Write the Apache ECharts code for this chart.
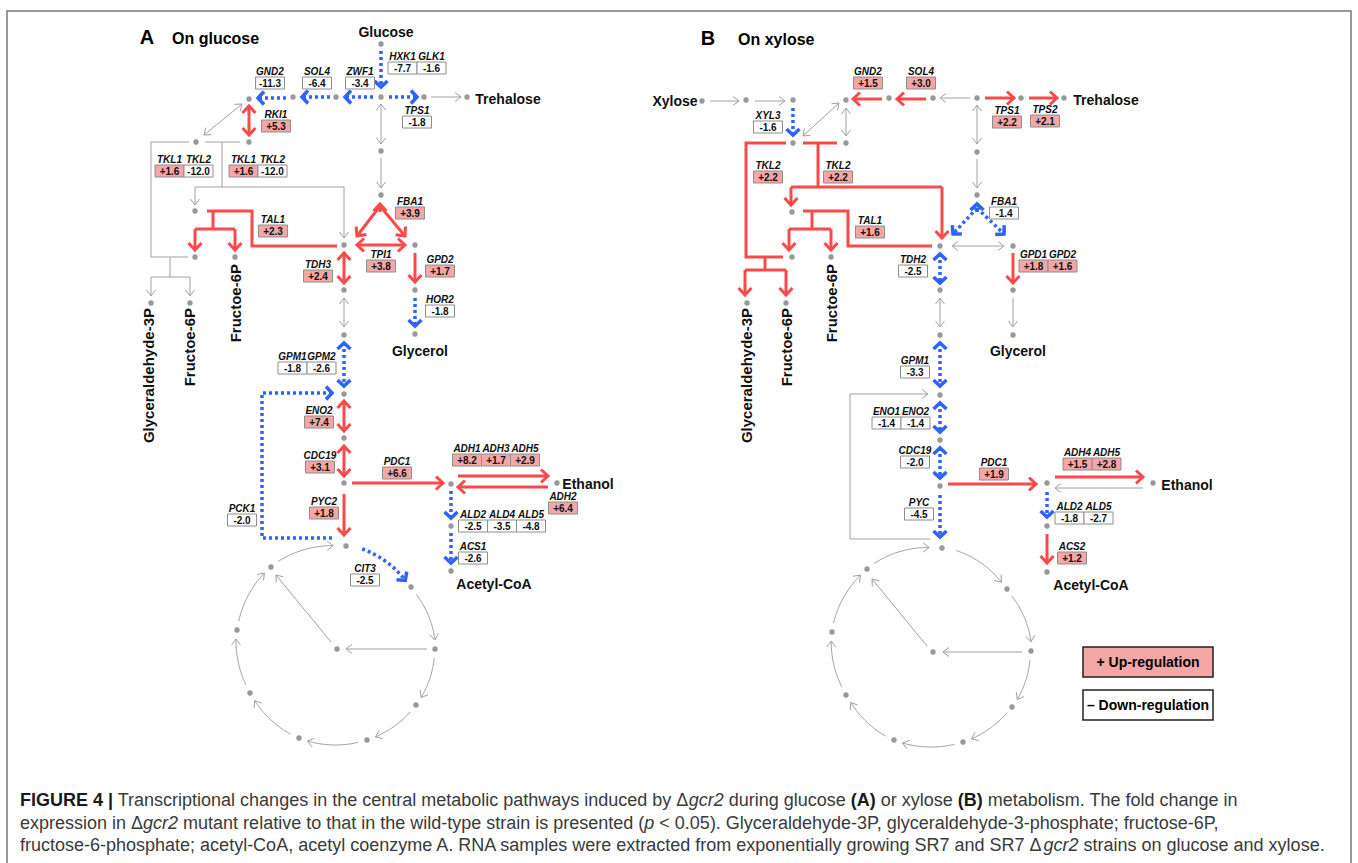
<!DOCTYPE html>
<html>
<head>
<meta charset="utf-8">
<script src="https://cdn.jsdelivr.net/npm/echarts@6.0.0/dist/echarts.min.js"></script>
<style>
  html, body { margin: 0; padding: 0; background: #fff; }
  #chart { width: 1358px; height: 863px; }
</style>
</head>
<body>
<div id="chart"></div>
<script>
const FONT = '"Liberation Sans", Arial, Helvetica, sans-serif'

// ---- fold changes (gcr2 mutant vs wild type), panel A: on glucose
const genesA = [['HXK1','GLK1'],['ZWF1'],['SOL4'],['GND2'],['TPS1'],['RKI1'],['TKL1','TKL2'],['TKL1','TKL2'],
  ['FBA1'],['TAL1'],['TPI1'],['TDH3'],['GPD2'],['HOR2'],['GPM1','GPM2'],['ENO2'],['CDC19'],['PDC1'],
  ['ADH1','ADH3','ADH5'],['ADH2'],['PYC2'],['PCK1'],['ALD2','ALD4','ALD5'],['ACS1'],['CIT3']]
const foldA = [[-7.7,-1.6],[-3.4],[-6.4],[-11.3],[-1.8],[5.3],[1.6,-12.0],[1.6,-12.0],
  [3.9],[2.3],[3.8],[2.4],[1.7],[-1.8],[-1.8,-2.6],[7.4],[3.1],[6.6],
  [8.2,1.7,2.9],[6.4],[1.8],[-2.0],[-2.5,-3.5,-4.8],[-2.6],[-2.5]]

// ---- panel B: on xylose
const genesB = [['XYL3'],['SOL4'],['GND2'],['TPS1'],['TPS2'],['TKL2'],['TKL2'],['FBA1'],['TAL1'],['TDH2'],
  ['GPD1','GPD2'],['GPM1'],['ENO1','ENO2'],['CDC19'],['PDC1'],['ADH4','ADH5'],['PYC'],['ALD2','ALD5'],['ACS2']]
const foldB = [[-1.6],[3.0],[1.5],[2.2],[2.1],[2.2],[2.2],[-1.4],[1.6],[-2.5],
  [1.8,1.6],[-3.3],[-1.4,-1.4],[-2.0],[1.9],[1.5,2.8],[-4.5],[-1.8,-2.7],[1.2]]

const metabolitesA = ['Glucose','Trehalose','Glycerol','Ethanol','Acetyl-CoA']
const metabolitesB = ['Xylose','Trehalose','Glycerol','Ethanol','Acetyl-CoA']
const sideProducts = ['Glyceraldehyde-3P','Fructoe-6P','Fructoe-6P']

// ---- layout (diagram units = pixels of the figure)
const boxAtA = [[417,68],[360,83],[317,83],[270,83],[417,122],[276,126],[184,171],[258,171],
  [410,213],[273,231],[381,266],[318,276],[440,271],[440,311],[307,368],[319,422],[320,467],[397,473],
  [496,460],[563,508],[324,513],[242,520],[502,526],[473,558],[365,580]]
const boxAtB = [[768,127],[921,83],[868,83],[1007,122],[1045,121],[768,177],[838,177],[1004,213],[870,232],[913,271],
  [1048,266],[915,372],[901,423],[915,462],[994,474],[1092,464],[919,514],[1084,518],[1072,558]]
const metAtA = [[386,32],[508,99],[420,351],[588,484],[494,584]]
const metAtB = [[675,101],[1106,100],[1018,351],[1187,485],[1091,585]]
const sideAtA = [[148,308],[189,308],[235,264]]
const sideAtB = [[746,308],[786,308],[831,264]]

const nodesA = [[381,44],[381,97],[336,97],[293,97],[249,99],[424,97],[467,97],[249,142],[196,142],
  [381,151],[381,195],[195,211],[344,245],[415,245],[195,257],[235,257],[151,303],[190,303],
  [415,290],[415,334],[344,290],[344,335],[344,394],[344,438],[344,483],[451,484],[557,483],[451,526],[451,571]]
const nodesB = [[702,101],[746,100],[793,100],[793,143],[846,100],[846,143],[889,98],[933,98],[977,98],[1021,98],[1064,98],
  [977,152],[977,195],[792,212],[792,257],[831,257],[747,303],[786,303],
  [1013,246],[940,246],[1013,290],[1013,335],[940,290],[940,335],[940,395],[940,440],[940,486],[1047,483],[1153,483],[1047,526],[1047,572]]
// TCA cycle: clockwise from oxaloacetate, last one is the centre node
const tcaA = [[346,546],[411,587],[435,649],[416,705],[367,740],[299,738],[250,693],[237,630],[271,567],[337,649]]
const tcaB = [[942,548],[1007,589],[1031,651],[1012,707],[963,742],[894,740],[846,695],[832,632],[867,569],[933,652]]
const tcaCentreA = [337,645]
const tcaCentreB = [932,645]

// reactions: [regulation, arrow heads, polyline]
const edgesA = [
  ['down','end',[[381,51],[381,87]]],
  ['down','end',[[373,97],[345,97]]],
  ['down','end',[[389,97],[417,97]]],
  ['down','end',[[330,97],[302,97]]],
  ['down','end',[[286,98],[258,98]]],
  ['none','end',[[431,97],[461,97]]],
  ['up','both',[[249,106],[249,135]]],
  ['none','both',[[204,135],[242,104]]],
  ['none','none',[[205,142],[240,142]]],
  ['none','none',[[222,142],[222,187]]],
  ['none','none',[[195,187],[344,187]]],
  ['none','end',[[195,187],[195,205]]],
  ['none','end',[[344,187],[344,238]]],
  ['none','none',[[189,142],[151,142],[151,257],[188,257]]],
  ['none','none',[[170,257],[170,277]]],
  ['none','none',[[151,277],[190,277]]],
  ['none','end',[[151,277],[151,296]]],
  ['none','end',[[190,277],[190,296]]],
  ['up','none',[[207,211],[252,211],[252,246],[337,246]]],
  ['up','none',[[213,211],[213,229]]],
  ['up','none',[[195,229],[235,229]]],
  ['up','end',[[195,229],[195,250]]],
  ['up','end',[[235,229],[235,250]]],
  ['none','both',[[381,104],[381,144]]],
  ['none','end',[[381,158],[381,188]]],
  ['up','end',[[380,212],[380,204]]],
  ['up','end',[[380,206],[357,236]]],
  ['up','end',[[380,206],[405,236]]],
  ['up','both',[[357,245],[405,245]]],
  ['up','end',[[415,253],[415,282]]],
  ['down','end',[[415,298],[415,326]]],
  ['up','both',[[344,253],[344,283]]],
  ['none','both',[[344,298],[344,327]]],
  ['down','both',[[344,343],[344,386]]],
  ['down','end',[[332,538],[262,538],[262,393],[332,393]]],
  ['up','both',[[344,401],[344,431]]],
  ['up','both',[[344,446],[344,476]]],
  ['up','end',[[352,483],[443,483]]],
  ['up','end',[[458,476],[548,476]]],
  ['up','end',[[548,487],[458,487]]],
  ['up','end',[[344,494],[344,535]]],
  ['down','end',[[451,491],[451,518]]],
  ['down','end',[[451,533],[451,563]]],
  ['none','end',[[427,649],[346,649]]],
  ['none','end',[[331,642],[276,575]]]
]
const edgesB = [
  ['none','end',[[710,101],[739,101]]],
  ['none','end',[[755,101],[785,101]]],
  ['down','end',[[793,108],[793,135]]],
  ['none','both',[[803,136],[839,103]]],
  ['none','both',[[846,108],[846,136]]],
  ['up','end',[[882,99],[853,99]]],
  ['up','end',[[926,99],[897,99]]],
  ['none','end',[[970,98],[940,98]]],
  ['up','end',[[985,98],[1014,98]]],
  ['up','end',[[1029,98],[1057,98]]],
  ['none','both',[[977,105],[977,144]]],
  ['none','end',[[977,159],[977,188]]],
  ['up','none',[[786,143],[746,143],[746,257],[783,257]]],
  ['up','none',[[765,257],[765,270]]],
  ['up','none',[[745,270],[786,270]]],
  ['up','end',[[745,270],[745,295]]],
  ['up','end',[[786,270],[786,295]]],
  ['up','none',[[803,143],[837,143]]],
  ['up','none',[[818,143],[818,187]]],
  ['up','none',[[791,187],[942,187]]],
  ['up','end',[[791,187],[791,205]]],
  ['up','end',[[942,187],[942,238]]],
  ['up','none',[[803,211],[848,211],[848,246],[932,246]]],
  ['up','none',[[812,211],[812,229]]],
  ['up','none',[[789,229],[831,229]]],
  ['up','end',[[789,229],[789,250]]],
  ['up','end',[[831,229],[831,250]]],
  ['down','end',[[977,212],[977,204]]],
  ['down','end',[[977,208],[953,234]]],
  ['down','end',[[977,208],[1004,234]]],
  ['none','both',[[952,246],[1004,246]]],
  ['up','end',[[1013,253],[1013,283]]],
  ['none','end',[[1013,298],[1013,327]]],
  ['down','both',[[940,254],[940,283]]],
  ['none','both',[[940,298],[940,327]]],
  ['down','both',[[940,343],[940,386]]],
  ['none','end',[[930,539],[850,539],[850,394],[928,394]]],
  ['down','both',[[940,403],[940,432]]],
  ['down','both',[[940,448],[940,478]]],
  ['up','end',[[948,484],[1036,484]]],
  ['up','end',[[1055,477],[1143,477]]],
  ['none','end',[[1143,488],[1055,488]]],
  ['down','end',[[940,495],[940,537]]],
  ['down','end',[[1047,492],[1047,517]]],
  ['up','end',[[1047,534],[1047,563]]],
  ['none','end',[[1022,652],[943,652]]],
  ['none','end',[[927,646],[872,579]]]
]
// arcs of the cycle: [from, to, regulation, gap at start, gap at end]
const arcsA = [[0,1,'down',16,9],[1,2,'none',9,9],[2,3,'none',9,9],[3,4,'none',9,9],[4,5,'none',9,9],
  [5,6,'none',9,9],[6,7,'none',9,9],[7,8,'none',9,9],[8,0,'none',9,13]]
const arcsB = [[0,1,'none',14,9],[1,2,'none',9,9],[2,3,'none',9,9],[3,4,'none',9,9],[4,5,'none',9,9],
  [5,6,'none',9,9],[6,7,'none',9,9],[7,8,'none',9,9],[8,0,'none',9,13]]

const STYLE = {
  up:   { color: '#f94a4a', width: 3,   dash: null,   L: 7, W: 6.5 },
  down: { color: '#2e63ff', width: 3.5, dash: [3, 3], L: 6, W: 6.5 },
  none: { color: '#a0a0a0', width: 1,   dash: null,   L: 6, W: 4.5 }
}
const PINK = '#f5a6a6'
const CELL_W = 29, CELL_H = 12

// build one list of drawable reactions
const edges = []
edgesA.concat(edgesB).forEach(e => edges.push({ kind: e[0], heads: e[1], pts: e[2] }))
arcsA.forEach(a => edges.push({ kind: a[2], heads: 'end', arc: [tcaCentreA, tcaA[a[0]], tcaA[a[1]], a[3], a[4]] }))
arcsB.forEach(a => edges.push({ kind: a[2], heads: 'end', arc: [tcaCentreB, tcaB[a[0]], tcaB[a[1]], a[3], a[4]] }))

const genes = []
genesA.forEach((g, i) => genes.push({ names: g, vals: foldA[i], at: boxAtA[i] }))
genesB.forEach((g, i) => genes.push({ names: g, vals: foldB[i], at: boxAtB[i] }))

const labels = []
metabolitesA.forEach((m, i) => labels.push({ text: m, at: metAtA[i], rot: false }))
metabolitesB.forEach((m, i) => labels.push({ text: m, at: metAtB[i], rot: false }))
sideProducts.forEach((m, i) => labels.push({ text: m, at: sideAtA[i], rot: true }))
sideProducts.forEach((m, i) => labels.push({ text: m, at: sideAtB[i], rot: true }))

function fmt(v) {
  return (v > 0 ? '+' : '') + v.toFixed(1)
}

function chevron(tip, from, st) {
  const dx = tip[0] - from[0], dy = tip[1] - from[1]
  const len = Math.hypot(dx, dy) || 1
  const ux = dx / len, uy = dy / len, nx = -uy, ny = ux
  return {
    type: 'polyline',
    shape: { points: [
      [tip[0] - ux * st.L + nx * st.W, tip[1] - uy * st.L + ny * st.W],
      tip,
      [tip[0] - ux * st.L - nx * st.W, tip[1] - uy * st.L - ny * st.W]
    ] },
    style: { stroke: st.color, lineWidth: st.width, fill: null, lineJoin: 'miter', lineCap: 'butt' }
  }
}

function arcPoints(c, a, b, g0, g1) {
  const ra = Math.hypot(a[0] - c[0], a[1] - c[1])
  const rb = Math.hypot(b[0] - c[0], b[1] - c[1])
  let ta = Math.atan2(a[1] - c[1], a[0] - c[0])
  let tb = Math.atan2(b[1] - c[1], b[0] - c[0])
  while (tb <= ta) tb += 2 * Math.PI
  const rm = (ra + rb) / 2
  ta += g0 / rm
  tb -= g1 / rm
  const pts = []
  for (let k = 0; k <= 30; k++) {
    const t = k / 30
    const th = ta + (tb - ta) * t
    const r = ra + (rb - ra) * t
    pts.push([c[0] + r * Math.cos(th), c[1] + r * Math.sin(th)])
  }
  return pts
}

function renderEdge(params, api) {
  const e = edges[params.dataIndex]
  const st = STYLE[e.kind]
  let pts
  if (e.arc) {
    pts = arcPoints(api.coord(e.arc[0]), api.coord(e.arc[1]), api.coord(e.arc[2]), e.arc[3], e.arc[4])
  } else {
    pts = e.pts.map(p => api.coord(p))
  }
  const children = [{
    type: 'polyline',
    shape: { points: pts },
    style: { stroke: st.color, lineWidth: st.width, lineDash: st.dash, fill: null, lineCap: 'butt', lineJoin: 'miter' }
  }]
  const n = pts.length
  if (e.heads === 'end' || e.heads === 'both') children.push(chevron(pts[n - 1], pts[n - 2], st))
  if (e.heads === 'both') children.push(chevron(pts[0], pts[1], st))
  return { type: 'group', children }
}

function renderGene(params, api) {
  const g = genes[params.dataIndex]
  const c = api.coord(g.at)
  const x0 = c[0] - g.names.length * CELL_W / 2
  const children = []
  g.names.forEach((name, i) => {
    const v = g.vals[i]
    const cx = x0 + i * CELL_W + CELL_W / 2
    children.push({
      type: 'rect',
      shape: { x: x0 + i * CELL_W, y: c[1] - CELL_H / 2, width: CELL_W, height: CELL_H },
      style: { fill: v > 0 ? PINK : '#fff', stroke: '#8e8e8e', lineWidth: 1 }
    })
    children.push({
      type: 'text',
      style: { text: fmt(v), x: cx, y: c[1] + 0.5, align: 'center', verticalAlign: 'middle',
        fontSize: 10, fontWeight: 'bold', fontFamily: FONT, fill: '#111' }
    })
    children.push({
      type: 'text',
      style: { text: name, x: cx, y: c[1] - CELL_H / 2 - 1, align: 'center', verticalAlign: 'bottom',
        fontSize: 10, fontWeight: 'bold', fontStyle: 'italic', fontFamily: FONT, fill: '#111' }
    })
  })
  return { type: 'group', children }
}

function renderLabel(params, api) {
  const l = labels[params.dataIndex]
  const c = api.coord(l.at)
  const style = { text: l.text, fontSize: l.rot ? 15 : 14, fontWeight: 'bold', fontFamily: FONT, fill: '#111',
    align: l.rot ? 'right' : 'center', verticalAlign: 'middle' }
  return { type: 'text', x: c[0], y: c[1], rotation: l.rot ? Math.PI / 2 : 0, style }
}

const chart = echarts.init(document.getElementById('chart'), null, { renderer: 'svg' })

const CAP_SIZE = 18
const captionRich = {
  r: { fontSize: CAP_SIZE, fontFamily: FONT, fill: '#3a3a3a' },
  b: { fontSize: CAP_SIZE, fontFamily: FONT, fontWeight: 'bold', fill: '#1a1a1a' },
  i: { fontSize: CAP_SIZE, fontFamily: FONT, fontStyle: 'italic', fill: '#3a3a3a' }
}
const captionLines = [
  '{b|FIGURE 4 |}{r| Transcriptional changes in the central metabolic pathways induced by \u0394}{i|gcr2}{r| during glucose }{b|(A)}{r| or xylose }{b|(B)}{r| metabolism. The fold change in}',
  '{r|expression in \u0394}{i|gcr2}{r| mutant relative to that in the wild-type strain is presented (}{i|p}{r| < 0.05). Glyceraldehyde-3P, glyceraldehyde-3-phosphate; fructose-6P,}',
  '{r|fructose-6-phosphate; acetyl-CoA, acetyl coenzyme A. RNA samples were extracted from exponentially growing SR7 and SR7 \u0394}{i|gcr2}{r| strains on glucose and xylose.}'
]

const option = {
  animation: false,
  backgroundColor: '#fff',
  grid: { left: 0, right: 0, top: 0, bottom: 0 },
  xAxis: { type: 'value', min: 0, max: 1358, show: false },
  yAxis: { type: 'value', min: 0, max: 863, inverse: true, show: false },
  graphic: [
    { type: 'rect', shape: { x: 7, y: 11, width: 1344, height: 870 }, style: { fill: null, stroke: '#777', lineWidth: 1.5 } },
    { type: 'text', x: 147, y: 37, style: { text: 'A', fontSize: 20, fontWeight: 'bold', fontFamily: FONT, fill: '#000', align: 'center', verticalAlign: 'middle' } },
    { type: 'text', x: 172, y: 38, style: { text: 'On glucose', fontSize: 16, fontWeight: 'bold', fontFamily: FONT, fill: '#000', verticalAlign: 'middle' } },
    { type: 'text', x: 708, y: 38, style: { text: 'B', fontSize: 20, fontWeight: 'bold', fontFamily: FONT, fill: '#000', align: 'center', verticalAlign: 'middle' } },
    { type: 'text', x: 738, y: 39, style: { text: 'On xylose', fontSize: 16, fontWeight: 'bold', fontFamily: FONT, fill: '#000', verticalAlign: 'middle' } },
    { type: 'rect', shape: { x: 1083, y: 647, width: 130, height: 30 }, style: { fill: PINK, stroke: '#222', lineWidth: 1.5 } },
    { type: 'text', x: 1148, y: 662, style: { text: '+ Up-regulation', fontSize: 14, fontWeight: 'bold', fontFamily: FONT, fill: '#000', align: 'center', verticalAlign: 'middle' } },
    { type: 'rect', shape: { x: 1083, y: 690, width: 130, height: 30 }, style: { fill: '#fff', stroke: '#222', lineWidth: 1.5 } },
    { type: 'text', x: 1148, y: 705, style: { text: '\u2013 Down-regulation', fontSize: 14, fontWeight: 'bold', fontFamily: FONT, fill: '#000', align: 'center', verticalAlign: 'middle' } }
  ].concat(captionLines.map((t, i) => ({
    type: 'text', x: 20, y: 800 + i * 22.5,
    style: { text: t, rich: captionRich, fontSize: CAP_SIZE, fontFamily: FONT, fill: '#3a3a3a', verticalAlign: 'middle' }
  }))),
  series: [
    {
      type: 'custom',
      name: 'reactions',
      silent: true,
      renderItem: renderEdge,
      data: edges.map((e, i) => [i, 0]),
      z: 2
    },
    {
      type: 'scatter',
      name: 'metabolites',
      silent: true,
      symbolSize: 5.5,
      itemStyle: { color: '#7f7f7f' },
      data: nodesA.concat(nodesB, tcaA, tcaB),
      z: 3
    },
    {
      type: 'custom',
      name: 'genes',
      silent: true,
      renderItem: renderGene,
      data: genes.map((g, i) => [i, 0]),
      z: 4
    },
    {
      type: 'custom',
      name: 'names',
      silent: true,
      renderItem: renderLabel,
      data: labels.map((l, i) => [i, 0]),
      z: 4
    }
  ]
}
chart.setOption(option)
</script>
</body>
</html>
